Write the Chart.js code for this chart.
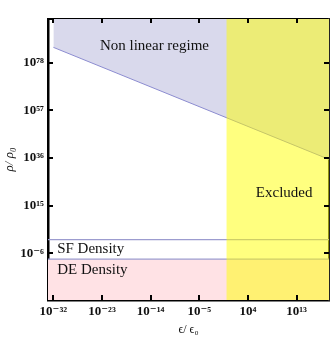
<!DOCTYPE html>
<html><head><meta charset="utf-8">
<script src="https://cdn.jsdelivr.net/npm/chart.js@4/dist/chart.umd.min.js"></script>
<style>html,body{margin:0;padding:0;background:#fff}#wrap{width:334px;height:339px}</style>
</head><body><div id="wrap"><canvas id="c" width="334" height="339"></canvas></div>
<script>
// log10 exponents of the axis ranges
const xRange = [-33, 19];
const yRange = [-26.6, 97.3];
const xTickExps = [-32, -23, -14, -5, 4, 13];
const yTickExps = [78, 57, 36, 15, -6];
// non-linear regime boundary (log10 eps/eps0 , log10 rho/rho0)
const nonLinearX = [-32, 19];
const nonLinearY = [84.8, 35.4];
// densities (log10 rho/rho0)
const densityX = [-33, 19];
const sfDensityY = [0, 0];
const deDensityY = [-8.6, -8.6];
// excluded region starts at eps/eps0 = 10^0
const excludedX = [0, 19];
const regionNames = ['Non linear regime', 'Excluded', 'SF Density', 'DE Density'];
const regionAnchorX = [-13.3, 10.7, -31.3, -31.3];
const regionAnchorY = [85.4, 20.4, -4.2, -13.4];

const SUP = {'-':'\u207B','0':'\u2070','1':'\u00B9','2':'\u00B2','3':'\u00B3','4':'\u2074','5':'\u2075','6':'\u2076','7':'\u2077','8':'\u2078','9':'\u2079'};
const sup = v => String(v).split('').map(c => SUP[c] || c).join('');
const pts = (xs, ys) => xs.map((x, i) => ({x, y: ys[i]}));

const serif = "'Liberation Serif', 'DejaVu Serif', serif";

const frameTicks = {
  id: 'frameTicks',
  afterDatasetsDraw(chart) {
    const {ctx, chartArea: a, scales: {x, y}} = chart;
    ctx.save();
    // region labels
    ctx.fillStyle = '#111';
    ctx.font = '15px ' + serif;
    ctx.textBaseline = 'middle';
    regionNames.forEach((t, i) => {
      ctx.textAlign = i < 2 ? 'center' : 'left';
      ctx.fillText(t, x.getPixelForValue(regionAnchorX[i]), y.getPixelForValue(regionAnchorY[i]));
    });
    // inward tick marks on all four sides
    ctx.strokeStyle = '#000';
    ctx.lineWidth = 2;
    ctx.beginPath();
    xTickExps.forEach(v => {
      const px = Math.round(x.getPixelForValue(v));
      ctx.moveTo(px, a.bottom); ctx.lineTo(px, a.bottom - 5);
      ctx.moveTo(px, a.top); ctx.lineTo(px, a.top + 4);
    });
    yTickExps.forEach(v => {
      const py = Math.round(y.getPixelForValue(v));
      ctx.moveTo(a.left, py); ctx.lineTo(a.left + 5, py);
      ctx.moveTo(a.right, py); ctx.lineTo(a.right - 5, py);
    });
    ctx.stroke();
    ctx.restore();
  }
};

const fixSize = (w, h) => s => { if (w != null) s.width = w; if (h != null) s.height = h; };

new Chart(document.getElementById('c'), {
  type: 'line',
  data: {
    datasets: [
      { label: 'Excluded', data: pts(excludedX, [yRange[1], yRange[1]]), fill: 'start',
        backgroundColor: 'rgba(255,255,0,0.5)', borderWidth: 0, pointRadius: 0 },
      { label: 'Non linear regime', data: pts(nonLinearX, nonLinearY), fill: 'end',
        backgroundColor: '#d9d9ec', borderColor: '#8c8cd0', borderWidth: 1, pointRadius: 0 },
      { label: 'SF Density', data: pts(densityX, sfDensityY), fill: false,
        borderColor: '#9c9ccf', borderWidth: 1.2, pointRadius: 0 },
      { label: 'DE Density', data: pts(densityX, deDensityY), fill: 'start',
        backgroundColor: '#ffe2e5', borderColor: '#9c9ccf', borderWidth: 1.2, pointRadius: 0 }
    ]
  },
  options: {
    responsive: false, animation: false, devicePixelRatio: 1,
    layout: { padding: 0 },
    plugins: { legend: { display: false }, tooltip: { enabled: false } },
    scales: {
      x: {
        type: 'linear', position: 'bottom', min: xRange[0], max: xRange[1], z: 1,
        afterBuildTicks: s => { s.ticks = xTickExps.map(v => ({value: v})); },
        afterFit: fixSize(null, 39),
        grid: { display: false, drawTicks: false },
        border: { display: true, color: '#000', width: 2.5 },
        ticks: { padding: 4, color: '#111', maxRotation: 0, autoSkip: false,
          font: { family: serif, size: 13, weight: 'bold' }, callback: v => '10' + sup(v) },
        title: { display: true, text: 'ϵ/ ϵ₀', color: '#111', padding: { top: 0, bottom: 2 },
          font: { family: serif, size: 12 } }
      },
      y: {
        type: 'linear', position: 'left', min: yRange[0], max: yRange[1], z: 1,
        afterBuildTicks: s => { s.ticks = yTickExps.map(v => ({value: v})); },
        afterFit: fixSize(48, null),
        grid: { display: false, drawTicks: false },
        border: { display: true, color: '#000', width: 2.5 },
        ticks: { padding: 4, color: '#111', autoSkip: false,
          font: { family: serif, size: 13, weight: 'bold' }, callback: v => '10' + sup(v) },
        title: { display: true, text: 'ρ/ ρ₀', color: '#111', padding: { top: 2, bottom: 0 },
          font: { family: serif, size: 13, style: 'italic' } }
      },
      x2: {
        type: 'linear', position: 'top', min: xRange[0], max: xRange[1], z: 1,
        afterFit: fixSize(null, 19),
        grid: { display: false, drawTicks: false },
        border: { display: true, color: '#000', width: 2 },
        ticks: { display: false }
      },
      y2: {
        type: 'linear', position: 'right', min: yRange[0], max: yRange[1], z: 1,
        afterFit: fixSize(5, null),
        grid: { display: false, drawTicks: false },
        border: { display: true, color: '#222', width: 2 },
        ticks: { display: false }
      }
    }
  },
  plugins: [frameTicks]
});
</script>
</body></html>
